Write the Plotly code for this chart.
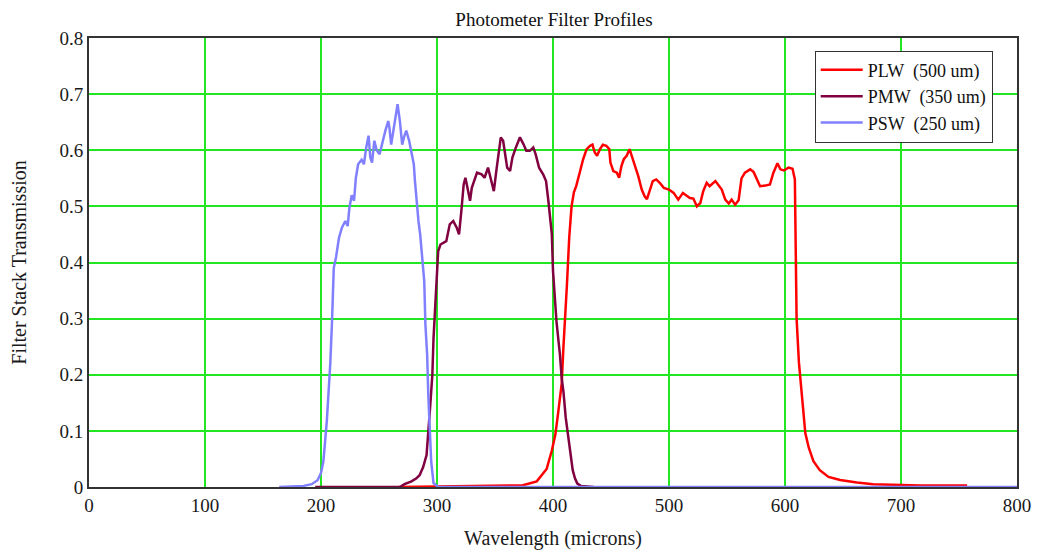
import plotly.graph_objects as go

# ---------------- data ----------------
psw_wl = [164, 185, 192, 197, 200, 202, 205, 208, 209.5, 211, 213, 215.5, 218, 221, 223, 224.5,
          226.5, 228.5, 230, 232, 235, 237, 239, 241, 242.5, 244, 246, 248, 250.5, 253, 255.5,
          258, 259, 260.5, 263, 264.5, 266, 268, 270, 271.5, 273.5, 276, 277.5, 280, 281, 282.5,
          284, 285.5, 287, 289, 290, 291.5, 292.5, 293.5, 295, 297, 301, 800]
psw_t = [0, 0.002, 0.005, 0.012, 0.025, 0.045, 0.117, 0.22, 0.295, 0.39, 0.41, 0.444, 0.462, 0.474,
         0.465, 0.498, 0.52, 0.51, 0.55, 0.575, 0.583, 0.575, 0.605, 0.626, 0.587, 0.578, 0.617,
         0.6, 0.593, 0.617, 0.635, 0.652, 0.64, 0.61, 0.64, 0.664, 0.682, 0.652, 0.61, 0.623,
         0.635, 0.617, 0.6, 0.575, 0.545, 0.504, 0.474, 0.45, 0.42, 0.367, 0.29, 0.236, 0.164,
         0.105, 0.045, 0.007, 0.0, 0.0]

pmw_wl = [195, 268, 272, 278, 282, 285, 288, 291, 294, 296, 297, 298.5, 300, 301, 303, 305.5, 308,
          311, 314, 317, 319, 321, 323, 324.5, 327, 328.5, 330, 333, 334.5, 338.5, 341, 344, 346,
          349, 351.5, 353.5, 355, 357, 358.5, 360.5, 363, 365, 368, 371.5, 374.5, 377, 380, 383,
          385, 388, 391.5, 394, 396, 397.5, 399, 400, 401.5, 403, 404.5, 406, 407.5, 409, 411,
          413, 415, 417, 419, 421, 424, 435]
pmw_t = [0, 0, 0.005, 0.01, 0.015, 0.021, 0.035, 0.057, 0.14, 0.2, 0.265, 0.325, 0.396, 0.42,
         0.432, 0.435, 0.438, 0.468, 0.474, 0.462, 0.45, 0.492, 0.539, 0.551, 0.527, 0.51, 0.533,
         0.551, 0.56, 0.557, 0.551, 0.569, 0.551, 0.527, 0.569, 0.605, 0.623, 0.617, 0.593, 0.569,
         0.563, 0.587, 0.605, 0.623, 0.611, 0.599, 0.599, 0.605, 0.593, 0.569, 0.557, 0.545, 0.51,
         0.48, 0.45, 0.385, 0.331, 0.295, 0.265, 0.236, 0.194, 0.17, 0.123, 0.093, 0.057, 0.03,
         0.015, 0.006, 0.002, 0.0]

plw_wl = [267, 374, 386, 394.5, 399, 402, 404.5, 407.5, 409, 410.5, 412, 414, 416, 418, 420, 423,
          426, 429, 432, 434, 436, 438, 440.5, 443, 446, 448.5, 449.5, 452, 455, 457, 459, 461,
          463.5, 466, 468, 471, 473.5, 476.5, 479, 481, 483.5, 486, 489, 492, 495.5, 500, 504,
          508, 512, 515, 518, 521, 524, 527, 529.5, 532.5, 535, 540, 543, 545.5, 548.5, 551.5,
          554, 557, 560, 562.5, 565.5, 570, 573, 576, 578.5, 583, 587, 590, 593.5, 596, 599, 603,
          606.5, 608.5, 609, 610, 612, 614, 615.5, 617.5, 620.5, 624.5, 630, 637.5, 647.5, 662,
          676, 693.5, 716.5, 757]
plw_t = [0, 0.003, 0.01, 0.032, 0.065, 0.093, 0.133, 0.184, 0.25, 0.32, 0.36, 0.445, 0.5, 0.525,
         0.536, 0.56, 0.584, 0.602, 0.608, 0.61, 0.596, 0.59, 0.602, 0.61, 0.608, 0.602, 0.578,
         0.563, 0.56, 0.551, 0.572, 0.584, 0.59, 0.602, 0.59, 0.572, 0.554, 0.53, 0.518, 0.513,
         0.53, 0.545, 0.548, 0.542, 0.533, 0.53, 0.524, 0.512, 0.524, 0.52, 0.515, 0.514, 0.5,
         0.506, 0.527, 0.542, 0.536, 0.545, 0.536, 0.53, 0.512, 0.505, 0.512, 0.503, 0.511, 0.55,
         0.56, 0.566, 0.561, 0.548, 0.536, 0.537, 0.539, 0.56, 0.577, 0.566, 0.564, 0.569, 0.567,
         0.548, 0.42, 0.3, 0.222, 0.178, 0.132, 0.096, 0.07, 0.046, 0.03, 0.018, 0.0125, 0.008,
         0.005, 0.0035, 0.0025, 0.0025]

series_names = ["PLW  (500 um)", "PMW  (350 um)", "PSW  (250 um)"]
series_colors = ["#ff0000", "#800040", "#8080ff"]

x_ticks = [0, 100, 200, 300, 400, 500, 600, 700, 800]
y_ticks = [0, 0.1, 0.2, 0.3, 0.4, 0.5, 0.6, 0.7, 0.8]
y_tick_text = ["0", "0.1", "0.2", "0.3", "0.4", "0.5", "0.6", "0.7", "0.8"]

# ---------------- figure ----------------
FONT = "Liberation Serif, Times New Roman, serif"
GRID = "#22e622"
fig = go.Figure()
for wl, t, name, col in zip([plw_wl, pmw_wl, psw_wl], [plw_t, pmw_t, psw_t],
                            series_names, series_colors):
    fig.add_trace(go.Scatter(x=wl, y=t, mode="lines", name=name,
                             line=dict(color=col, width=2.5), hoverinfo="skip"))

# the page body has an 8px margin, so the figure is laid out relative to (8, 8)
fig.update_layout(
    width=1040, height=560,
    paper_bgcolor="white", plot_bgcolor="white",
    margin=dict(l=81, r=31, t=30, b=81),
    font=dict(family=FONT, size=17, color="#1a1a1a"),
    title=dict(text="Photometer Filter Profiles", x=0.525, xanchor="center",
               y=0.992, yanchor="top", yref="container",
               font=dict(family=FONT, size=19, color="#111")),
    showlegend=True,
    legend=dict(x=0.782, y=0.972, xanchor="left", yanchor="top",
                bgcolor="white", bordercolor="#333", borderwidth=1,
                font=dict(family=FONT, size=18, color="#111"),
                tracegroupgap=0, itemwidth=42),
)
fig.update_xaxes(range=[0, 800], tickvals=x_ticks, showgrid=True, gridcolor=GRID,
                 gridwidth=2, zeroline=False, showline=True, linecolor="#333", linewidth=2,
                 mirror=True, ticks="", automargin=False,
                 title=dict(text="Wavelength (microns)", standoff=16, font=dict(size=20)),
                 tickfont=dict(size=19))
fig.update_yaxes(range=[0, 0.8], tickvals=y_ticks, ticktext=y_tick_text, showgrid=True,
                 gridcolor=GRID, gridwidth=2, zeroline=False, showline=True,
                 linecolor="#333", linewidth=2, mirror=True, ticks="", automargin=False,
                 title=dict(text="Filter Stack Transmission", standoff=39, font=dict(size=20)),
                 tickfont=dict(size=19))

fig.write_html("out.html")
